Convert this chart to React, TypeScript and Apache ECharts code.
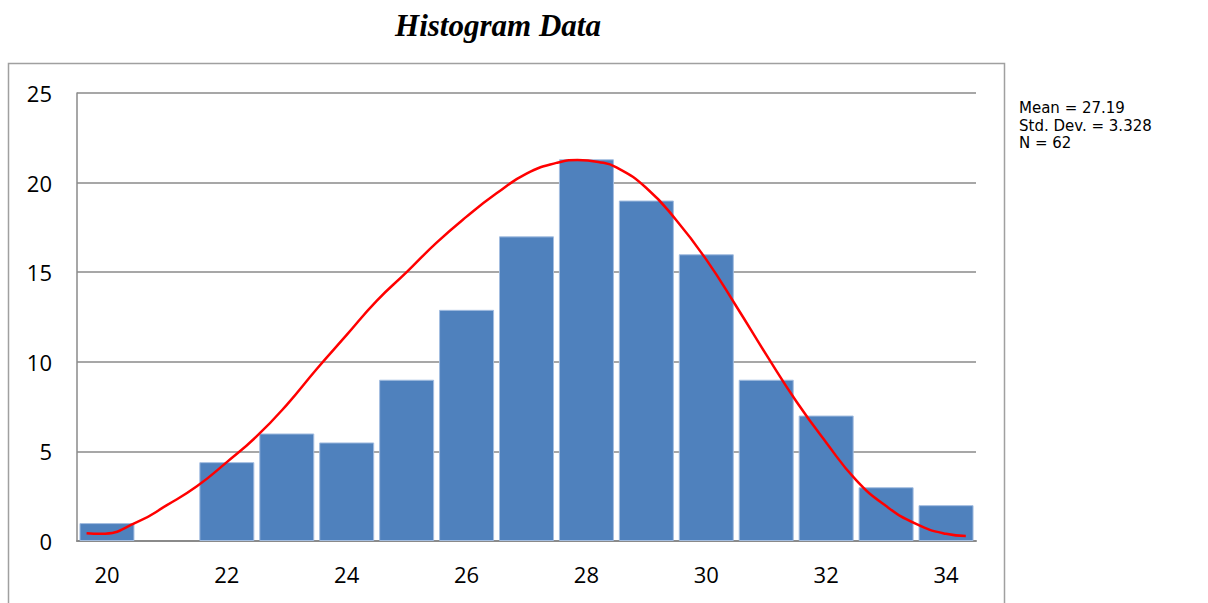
import React, { useEffect, useRef } from "react";
import * as echarts from "echarts";

const categories = ["20", "21", "22", "23", "24", "25", "26", "27", "28", "29", "30", "31", "32", "33", "34"];
const counts = [1, 0, 4.4, 6, 5.5, 9, 12.9, 17, 21.3, 19, 16, 9, 7, 3, 2];

const curveX = [19.66, 19.9, 20.5, 21.0, 21.5, 22.0, 22.5, 23.0, 23.5, 24.0, 24.5, 25.0, 25.5, 26.0, 26.5, 27.0, 27.5, 27.85, 28.2, 28.5, 29.0, 29.5, 30.0, 30.5, 31.0, 31.5, 32.0, 32.5, 33.0, 33.5, 34.0, 34.33];
const curveY = [0.43, 0.4, 1.05, 2.0, 3.05, 4.4, 5.85, 7.6, 9.6, 11.5, 13.4, 15.0, 16.65, 18.1, 19.4, 20.5, 21.1, 21.26, 21.15, 20.85, 19.7, 17.9, 15.7, 13.1, 10.4, 7.8, 5.5, 3.4, 1.95, 0.95, 0.4, 0.28];

const statsLines = ["Mean = 27.19", "Std. Dev. = 3.328", "N = 62"];
const titleText = "Histogram Data";

export default function App() {
  const ref = useRef<HTMLDivElement>(null);
  useEffect(() => {
    if (!ref.current) return;
    const chart = echarts.init(ref.current, null, { renderer: "svg" });
    const labelFont = "'Open Sans', 'Noto Sans', sans-serif";
    chart.setOption({
      animation: false,
      backgroundColor: "#ffffff",
      grid: { left: 77, top: 93, width: 899, height: 448, containLabel: false },
      xAxis: [
        {
          type: "category",
          data: categories,
          boundaryGap: true,
          axisLine: { show: true, lineStyle: { color: "#8a8a8a", width: 2 } },
          axisTick: { show: false },
          axisLabel: { interval: 1, color: "#000", fontSize: 22, fontFamily: labelFont, margin: 22 },
          splitLine: { show: false },
        },
        {
          type: "value",
          min: 19.5,
          max: 34.5,
          show: false,
        },
      ],
      yAxis: {
        type: "value",
        min: 0,
        max: 25,
        interval: 5,
        axisLine: { show: true, lineStyle: { color: "#8a8a8a", width: 1.5 } },
        axisTick: { show: false },
        axisLabel: { color: "#000", fontSize: 22, fontFamily: labelFont, margin: 25 },
        splitLine: { show: true, lineStyle: { color: "#8a8a8a", width: 1.5 } },
      },
      series: [
        {
          type: "bar",
          data: counts.map((v) => (v === 0 ? { value: v, itemStyle: { borderWidth: 0 } } : v)),
          barWidth: 55,
          itemStyle: { color: "#4f81bd", borderColor: "#a3bde0", borderWidth: 1 },
          z: 2,
        },
        {
          type: "line",
          xAxisIndex: 1,
          data: curveX.map((x, i) => [x, curveY[i]]),
          smooth: 0.5,
          showSymbol: false,
          symbol: "none",
          lineStyle: { color: "#ff0000", width: 2.5 },
          z: 3,
        },
      ],
      graphic: [
        {
          type: "rect",
          shape: { x: 8.5, y: 63.5, width: 996, height: 600 },
          style: { fill: "none", stroke: "#a0a0a0", lineWidth: 1.5 },
          silent: true,
        },
        {
          type: "text",
          x: 498,
          y: 25,
          style: {
            text: titleText,
            fontFamily: "'Liberation Serif', 'Times New Roman', serif",
            fontWeight: "bold",
            fontStyle: "italic",
            fontSize: 31,
            fill: "#000",
            textAlign: "center",
            textVerticalAlign: "middle",
          },
        },
        ...statsLines.map((t, i) => ({
          type: "text",
          x: 1019,
          y: 108 + i * 17.5,
          style: {
            text: t,
            fontFamily: "'DejaVu Sans', 'Liberation Sans', sans-serif",
            fontSize: 15,
            fill: "#000",
            textAlign: "left",
            textVerticalAlign: "middle",
          },
        })),
      ],
    });
    return () => chart.dispose();
  }, []);
  return (
    <div
      ref={ref}
      style={{ position: "fixed", left: 0, top: 0, width: 1208, height: 603, background: "#fff" }}
    />
  );
}
